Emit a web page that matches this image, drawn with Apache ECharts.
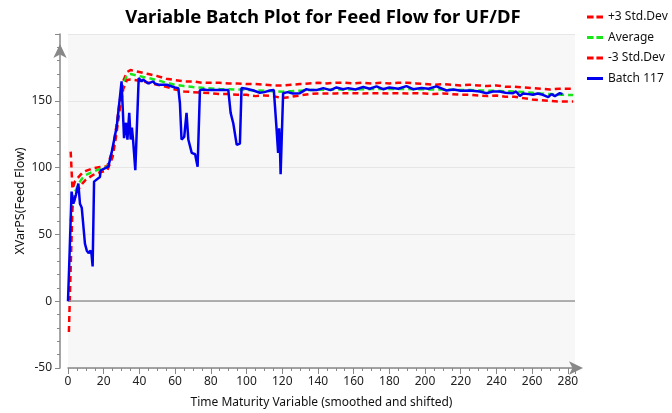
<!DOCTYPE html>
<html>
<head>
<meta charset="utf-8">
<script src="https://cdn.jsdelivr.net/npm/echarts@6/dist/echarts.min.js"></script>
<style>
  html, body { margin: 0; padding: 0; background: #fff; }
  #chart { width: 672px; height: 413px; }
</style>
</head>
<body>
<div id="chart"></div>
<script>
// Control-band x positions (time maturity) shared by the three reference curves
const bandX = [0.5, 1.5, 2.5, 4, 6, 8, 10, 14, 18, 22, 23, 25, 27, 29, 31, 33, 35, 40, 45, 50,
  55, 60, 65, 70, 75, 80, 85, 90, 95, 100, 105, 110, 115, 120, 125, 130, 135, 140, 145, 150,
  155, 160, 165, 170, 175, 180, 185, 190, 195, 200, 205, 210, 215, 220, 225, 230, 235, 240, 245, 250,
  255, 260, 265, 270, 275, 280, 283];

const upperVals = [null, 112, 84, 90, 93, 96, 97.5, 99.5, 100.5, 101, 102, 113, 130, 150, 165, 171.5, 173, 171.5, 170, 168.5,
  166.5, 165.5, 164.5, 164.5, 163.5, 163.5, 163.5, 163, 163, 162.5, 162.5, 162, 161.5, 161.5, 162, 162.5, 163, 163.5, 163, 163.5,
  163.5, 163, 163.5, 163, 163.5, 163, 163.5, 163.5, 163, 162.5, 162, 162.5, 162, 161.5, 162, 161.5, 161, 161.5, 160.5, 160.5,
  160, 159.5, 159, 158.5, 159, 159, 159];

const avgVals = [null, 60, 72, 82, 88, 92, 94.5, 97, 99, 100.5, 101, 111, 127, 147, 162, 169, 170, 168.5, 167, 165.5,
  163.5, 162, 161, 160.3, 159.8, 159.3, 158.8, 158.6, 158.4, 158.2, 157.8, 157.6, 157.2, 156.8, 157.2, 157.6, 158, 158.2, 158.2, 158.4,
  158.5, 158.6, 158.6, 158.8, 158.8, 158.8, 158.8, 158.8, 158.6, 158.6, 158.4, 158.4, 158.2, 158, 158, 157.8, 157.6, 157.4, 157.2, 157,
  156.6, 156, 155.4, 155, 154.6, 154.4, 154.4];

const lowerVals = [-23, 25, 70, 78, 84, 88, 91, 94.5, 96.5, 98, 99, 108, 124, 144, 159, 165.5, 166, 165, 163.5, 162,
  160.5, 158.5, 157, 156.5, 156, 155.7, 155, 155, 154.5, 154.5, 153.5, 154, 153.5, 152, 153, 154, 155, 155.5, 155.5, 155.5,
  155.7, 155.7, 155.5, 155.7, 155.7, 155.5, 155.7, 155.5, 155.7, 155.5, 155, 155.5, 155, 154.5, 154.5, 154, 153.5, 154, 153, 153,
  152, 151, 150.5, 150, 149.5, 149.5, 149.5];

// Batch 117 trace
const batchX = [0, 1, 2, 3, 4.5, 5.8, 6.7, 7.7, 9.5, 10.5, 11.5, 12, 12.7, 13.2, 13.8, 14.6, 16, 17.9, 18.3, 20,
  22.6, 24.4, 27.3, 29.1, 30, 31.4, 32, 32.5, 33.3, 34.3, 35.1, 35.8, 36.5, 37.7, 38.8, 39.6, 41.2, 42, 43, 45,
  47.8, 48.5, 50.6, 55.3, 59.9, 61.8, 62.7, 63.6, 65.1, 66.4, 67.4, 69.3, 71.2, 72.6, 73, 73.9, 76, 78.5, 86, 89.8,
  91.1, 92.6, 94.5, 95.4, 96.3, 97.2, 100, 103.8, 107.5, 110, 113.1, 115.3, 116.8, 117.7, 118.3, 118.8, 119.1, 120.5, 123, 126,
  129.9, 133.6, 136, 139.2, 143, 147, 150.4, 154, 157, 161, 165.4, 169, 172.8, 176.5, 180, 185, 189.6, 193.3, 198, 202,
  206.4, 212, 216, 220, 225, 230.7, 234.4, 238, 241.9, 245, 249.3, 251, 253.1, 255, 258, 260.5, 263, 266, 269, 270.8,
  272.7, 275.5, 277];

const batchVals = [0, 40, 82, 73, 80, 88, 73, 70, 43, 38, 36, 37, 38, 35, 26, 89.5, 91, 93, 98, 99,
  100.7, 111, 130.7, 153, 164.5, 122, 130, 133.5, 121, 141, 121, 130, 120, 98, 97.5, 167, 164.5, 166, 165, 163,
  164.5, 163, 162, 162, 160, 159.5, 148, 121, 123, 141, 121, 111, 110, 100.7, 100, 158, 158.5, 158, 158, 158,
  141, 133, 117, 116, 118, 159.5, 159, 157.7, 156, 156.5, 157.7, 158, 129.5, 111, 129.5, 111, 95, 155.7, 156.5, 155.5,
  155.7, 158.7, 158, 158, 159.5, 158, 160, 158.7, 159.5, 158.5, 160.3, 159, 160.8, 158.7, 160, 159, 161, 158.7, 159.5, 159,
  160.8, 157.7, 158.5, 157.5, 157.7, 157, 155.7, 157, 157, 156, 155.7, 157, 153.7, 155.5, 155, 154.5, 155.5, 154.5, 152.8, 155,
  153.5, 155.7, 155];

const yTicks = [-50, 0, 50, 100, 150];

const pair = (xs, ys) => xs.map((x, i) => [x, ys[i] == null ? null : ys[i]]);

const FONT = 'Noto Sans';
const dash = [6, 4];
// legend glyphs: two short dashes for the band curves, one bar for the batch trace
const dashIcon = 'path://M0,0H7V3H0Z M10,0H17V3H10Z';
const solidIcon = 'path://M0,0H17V3H0Z';

const chart = echarts.init(document.getElementById('chart'), null, { renderer: 'canvas' });

chart.setOption({
  animation: false,
  backgroundColor: '#ffffff',
  textStyle: { fontFamily: FONT },
  title: {
    text: 'Variable Batch Plot for Feed Flow for UF/DF',
    left: 318, top: 3, textAlign: 'center',
    textStyle: { fontFamily: FONT, fontSize: 18.5, fontWeight: 'bold', color: '#000' }
  },
  legend: {
    orient: 'vertical',
    left: 582, top: 6,
    itemWidth: 16, itemHeight: 3, itemGap: 8.5,
    symbolKeepAspect: false,
    textStyle: { fontFamily: FONT, fontSize: 12, color: '#111', padding: [0, 0, 0, 0] },
    data: [
      { name: '+3 Std.Dev', icon: dashIcon },
      { name: 'Average', icon: dashIcon },
      { name: '-3 Std.Dev', icon: dashIcon },
      { name: 'Batch 117', icon: solidIcon }
    ]
  },
  grid: {
    left: 68, right: 97, top: 34, bottom: 45,
    outerBoundsMode: 'none', containLabel: false,
    show: true, backgroundColor: '#f7f7f7', borderWidth: 0
  },
  xAxis: {
    type: 'value', min: 0, max: 284, interval: 20,
    name: 'Time Maturity Variable (smoothed and shifted)',
    nameLocation: 'middle', nameGap: 29, nameMoveOverlap: false,
    nameTextStyle: { fontFamily: FONT, fontSize: 12, color: '#111' },
    axisLine: { show: true, onZero: false, lineStyle: { color: '#888', width: 1.5 },
      symbol: ['none', 'arrow'], symbolSize: [10, 14], symbolOffset: [0, 8] },
    axisTick: { show: true, length: 6, lineStyle: { color: '#888' } },
    minorTick: { show: true, splitNumber: 4, length: 3, lineStyle: { color: '#888' } },
    axisLabel: { fontFamily: FONT, fontSize: 12, color: '#222', margin: 8, showMaxLabel: false },
    splitLine: { show: false }
  },
  yAxis: {
    type: 'value', min: -50, max: 200, interval: 50, offset: 8,
    name: 'XVarPS(Feed Flow)',
    nameLocation: 'middle', nameGap: 33, nameMoveOverlap: false,
    nameTextStyle: { fontFamily: FONT, fontSize: 12.5, color: '#111' },
    axisLine: { show: true, onZero: false, lineStyle: { color: '#888', width: 1.5 },
      symbol: ['none', 'arrow'], symbolSize: [10, 14], symbolOffset: [0, -10] },
    axisTick: { show: true, length: 5, lineStyle: { color: '#888' } },
    minorTick: { show: true, splitNumber: 5, length: 3, lineStyle: { color: '#888' } },
    axisLabel: {
      fontFamily: FONT, fontSize: 12, color: '#222', margin: 8,
      formatter: v => (yTicks.indexOf(v) >= 0 ? String(v) : '')
    },
    splitLine: { show: true, lineStyle: { color: '#e6e6e6', width: 1 } }
  },
  series: [
    {
      name: '+3 Std.Dev', type: 'line', showSymbol: false, symbol: 'none',
      data: pair(bandX, upperVals),
      lineStyle: { color: '#ff0000', width: 2.5, type: dash },
      itemStyle: { color: '#ff0000' },
      markLine: {
        silent: true, symbol: 'none', label: { show: false },
        lineStyle: { color: '#999', width: 1.5, type: 'solid' },
        data: [{ yAxis: 0 }]
      }
    },
    {
      name: 'Average', type: 'line', showSymbol: false, symbol: 'none',
      data: pair(bandX, avgVals),
      lineStyle: { color: '#19e619', width: 2.5, type: dash },
      itemStyle: { color: '#19e619' }
    },
    {
      name: '-3 Std.Dev', type: 'line', showSymbol: false, symbol: 'none',
      data: pair(bandX, lowerVals),
      lineStyle: { color: '#ff0000', width: 2.5, type: dash },
      itemStyle: { color: '#ff0000' }
    },
    {
      name: 'Batch 117', type: 'line', showSymbol: false, symbol: 'none',
      data: pair(batchX, batchVals),
      lineStyle: { color: '#0000ee', width: 2.5 },
      itemStyle: { color: '#0000ee' },
      z: 5
    }
  ]
});
</script>
</body>
</html>
